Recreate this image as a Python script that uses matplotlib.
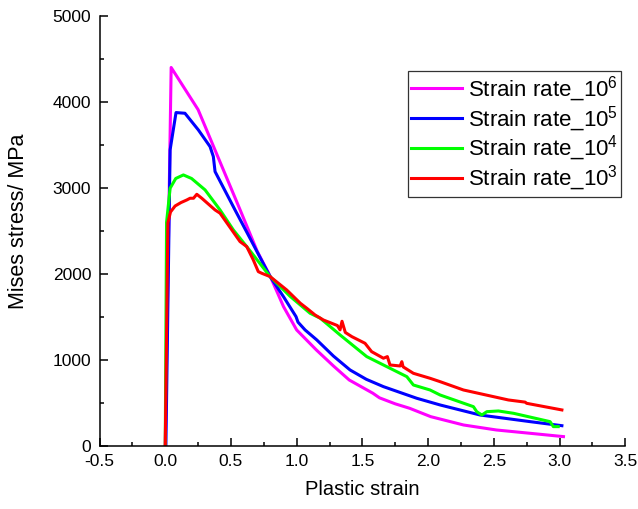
import numpy as np
import matplotlib
matplotlib.use("Agg")
import matplotlib.pyplot as plt

plt.rcParams['font.family'] = ['Liberation Sans', 'DejaVu Sans']
plt.rcParams['mathtext.fontset'] = 'custom'
plt.rcParams['mathtext.rm'] = 'Liberation Sans'
plt.rcParams['mathtext.it'] = 'Liberation Sans:italic'

# strain rate 10^6
x6 = [0.0, 0.045, 0.25, 0.57, 0.70, 0.80, 0.90, 1.00, 1.15, 1.28, 1.40, 1.58, 1.63, 1.75, 1.86, 2.02, 2.27,
      2.52, 2.78, 3.03]
y6 = [0, 4400, 3910, 2744, 2263, 1969, 1620, 1349, 1116, 930, 767, 613, 560, 490, 438, 341, 244,
      186, 147, 109]

# strain rate 10^5
x5 = [0.005, 0.037, 0.082, 0.15, 0.252, 0.341, 0.366, 0.379, 0.531, 0.65, 0.798, 0.90, 0.995, 1.01,
      1.064, 1.153, 1.28, 1.406, 1.53, 1.66, 1.913, 2.091, 2.396, 2.776, 3.018]
y5 = [0, 3442, 3876, 3868, 3674, 3480, 3364, 3190, 2744, 2400, 1969, 1735, 1504, 1440,
      1349, 1233, 1045, 884, 775, 690, 555, 477, 360, 283, 236]

# strain rate 10^4
x4 = [0.0, 0.01, 0.037, 0.08, 0.138, 0.2, 0.303, 0.417, 0.518, 0.65, 0.798, 0.95, 1.102, 1.18, 1.33,
      1.533, 1.838, 1.888, 2.015, 2.091, 2.345, 2.37, 2.409, 2.447, 2.535, 2.65, 2.928, 2.953, 2.99]
y4 = [0, 2600, 2996, 3110, 3151, 3110, 2977, 2744, 2512, 2260, 1969, 1740, 1543, 1485, 1291,
      1039, 806, 709, 651, 593, 457, 399, 360, 399, 407, 380, 283, 225, 225]

# strain rate 10^3
x3 = [0.0, 0.02, 0.04, 0.075, 0.12, 0.164, 0.189, 0.215, 0.24, 0.278, 0.379, 0.417, 0.569, 0.62, 0.67,
      0.708, 0.734, 0.798, 0.924, 1.028, 1.077, 1.14, 1.203, 1.31, 1.33, 1.345, 1.37, 1.42, 1.52,
      1.57, 1.66, 1.69, 1.71, 1.787, 1.80, 1.81, 1.888, 2.015, 2.091, 2.269, 2.611, 2.738, 2.75, 3.018]
y3 = [0, 2593, 2720, 2790, 2830, 2860, 2880, 2880, 2926, 2880, 2744, 2706, 2376, 2318, 2163,
      2027, 2008, 1969, 1814, 1659, 1601, 1523, 1465, 1400, 1350, 1450, 1320, 1271, 1194,
      1097, 1020, 1039, 942, 930, 980, 920, 845, 787, 748, 651, 535, 510, 496, 419]

labels = ['Strain rate_10$^{6}$', 'Strain rate_10$^{5}$', 'Strain rate_10$^{4}$', 'Strain rate_10$^{3}$']
colors = ['#ff00ff', '#0000ff', '#00ff00', '#ff0000']

fig = plt.figure(figsize=(6.38, 5.09), dpi=100)
ax = fig.add_axes([0.156, 0.1238, 0.824, 0.845])

for xs, ys, c, lab in zip([x6, x5, x4, x3], [y6, y5, y4, y3], colors, labels):
    ax.plot(xs, ys, color=c, lw=2.2, label=lab)

ax.set_xlim(-0.5, 3.5)
ax.set_ylim(0, 5000)
ax.set_xticks(np.arange(-0.5, 3.51, 0.5))
ax.set_xticklabels(['-0.5', '0.0', '0.5', '1.0', '1.5', '2.0', '2.5', '3.0', '3.5'])
ax.set_yticks([0, 1000, 2000, 3000, 4000, 5000])
ax.set_xticks(np.arange(-0.25, 3.5, 0.5), minor=True)
ax.set_yticks(np.arange(500, 5000, 1000), minor=True)
ax.tick_params(which='major', direction='in', length=6, width=1.1, labelsize=12.5, pad=6)
ax.tick_params(which='minor', direction='in', length=3, width=1.1)
for s in ['top', 'right']:
    ax.spines[s].set_visible(False)
for s in ['left', 'bottom']:
    ax.spines[s].set_linewidth(1.1)

ax.set_xlabel('Plastic strain', fontsize=14.5, labelpad=8)
ax.set_ylabel('Mises stress/ MPa', fontsize=15.5)
ax.yaxis.set_label_coords(-0.135, 0.523)

leg = ax.legend(loc='upper left', bbox_to_anchor=(408 / 638, 1 - 70.7 / 509), bbox_transform=fig.transFigure,
                fontsize=16, frameon=True, fancybox=False, edgecolor='black', handlelength=2.3,
                handletextpad=0.25, labelspacing=0.02, borderpad=0.15, borderaxespad=0)
leg.get_frame().set_linewidth(0.9)

fig.savefig('out.png', dpi=100)
